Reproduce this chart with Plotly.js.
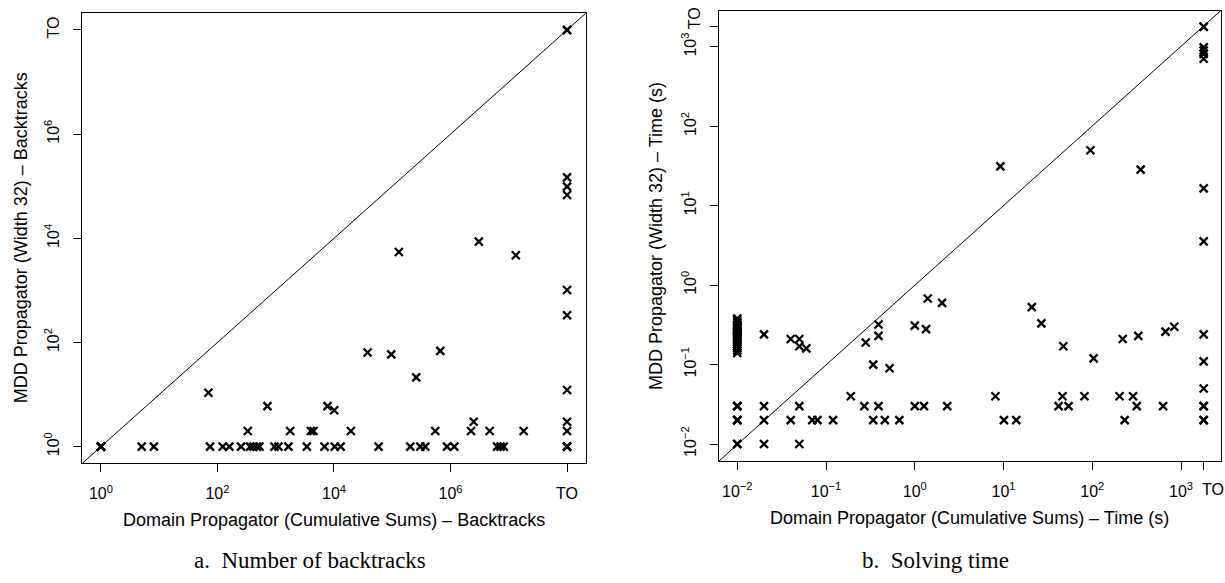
<!DOCTYPE html>
<html>
<head>
<meta charset="utf-8">
<script src="https://cdn.plot.ly/plotly-3.0.1.min.js"></script>
<style>html,body{margin:0;padding:0;background:#fff;}#chart{width:1225px;height:583px;}</style>
</head>
<body>
<div id="chart"></div>
<script>
// Timeout placeholders (TO) used on the axes
const TO_BT = 1e8;     // backtracks timeout position
const TO_TIME = 1800;  // time timeout position (s)

// Panel a: number of backtracks
const btDomain = [
  1,1,1,1,5,8.1,74.6,123,160,254,363,414,473,525,950,1114,1652,3420,6870,10300,13000,
  58200,204000,303000,369000,871000,1160000,6300000,7200000,8200000,TO_BT,TO_BT,TO_BT,
  331,1767,4010,4450,19500,548000,2250000,4700000,18000000,TO_BT,
  2500000,TO_BT,
  69.8,721,7740,10070,37700,96100,258000,668000,130000,3060000,13200000,
  TO_BT,TO_BT,TO_BT,TO_BT,TO_BT,TO_BT,TO_BT,TO_BT
];
const btMdd = [
  1,1,1,1,1,1,1,1,1,1,1,1,1,1,1,1,1,1,1,1,1,
  1,1,1,1,1,1,1,1,1,1,1,1,
  2,2,2,2,2,2,2,2,2,2,
  3,3,
  10.8,6,6,5,64,59,21.4,69,5470,8630,4720,
  TO_BT,TO_BT,148000,98000,67700,1020,333,12.2
];

// Panel b: solving time (s)
const timeDomain = [
  0.01,0.01,0.01,0.01,0.01,0.01,0.01,0.01,
  0.01,0.01,0.01,0.01,0.01,0.01,0.01,0.01,0.01,0.01,0.01,0.01,0.01,0.01,0.01,0.01,0.01,0.01,0.01,0.01,0.01,0.01,
  0.02,0.02,0.02,0.02,
  0.04,0.04,
  0.05,0.05,0.05,0.05,
  0.06,0.07,0.08,0.12,
  0.19,0.27,0.28,0.34,0.34,0.39,0.39,0.39,0.46,0.52,0.67,
  1.0,1.0,1.27,1.34,1.40,2.03,2.32,
  8.1,9.2,10.1,13.9,20.8,26.7,
  41.7,46.2,47.2,54,81.6,95.3,103.5,
  203,220,232,288,317,330,351,628,668,838,
  TO_TIME,TO_TIME,TO_TIME,TO_TIME,TO_TIME,TO_TIME,TO_TIME,TO_TIME,TO_TIME,TO_TIME,TO_TIME,TO_TIME,TO_TIME,TO_TIME,TO_TIME
];
const timeMdd = [
  0.01,0.01,0.02,0.02,0.02,0.03,0.03,0.03,
  0.14,0.15,0.16,0.17,0.18,0.19,0.2,0.21,0.22,0.23,0.24,0.25,0.26,0.27,0.28,0.29,0.3,0.31,0.32,0.34,0.36,0.38,
  0.24,0.03,0.02,0.01,
  0.21,0.02,
  0.21,0.17,0.03,0.01,
  0.16,0.02,0.02,0.02,
  0.04,0.03,0.19,0.1,0.02,0.32,0.23,0.03,0.02,0.09,0.02,
  0.31,0.03,0.03,0.28,0.68,0.60,0.03,
  0.04,31.4,0.02,0.02,0.53,0.33,
  0.03,0.04,0.17,0.03,0.04,50,0.12,
  0.04,0.21,0.02,0.04,0.03,0.23,28.5,0.03,0.26,0.30,
  TO_TIME,TO_TIME,990,900,820,710,16.6,3.56,0.24,0.11,0.05,0.03,0.03,0.02,0.02
];

// Tick labels (panel b's "TO" label is drawn beside its tick, as in the original)
const btTickVals = [1, 1e2, 1e4, 1e6, TO_BT];
const btTickText = ['10<sup>0</sup>','10<sup>2</sup>','10<sup>4</sup>','10<sup>6</sup>','TO'];
const timeTickVals = [0.01, 0.1, 1, 10, 100, 1000, TO_TIME];
const timeTickText = ['10<sup>\u22122</sup>','10<sup>\u22121</sup>','10<sup>0</sup>','10<sup>1</sup>','10<sup>2</sup>','10<sup>3</sup>',''];
const timeoutLabel = 'TO';

const sans = 'Liberation Sans, Arial, Helvetica, sans-serif';
const serif = 'Liberation Serif, DejaVu Serif, serif';
const marker = {symbol: 'x-thin', size: 8, color: '#000', line: {color: '#000', width: 2.3}};

const traces = [
  {type: 'scatter', mode: 'markers', x: btDomain, y: btMdd, xaxis: 'x', yaxis: 'y', marker: marker, hoverinfo: 'x+y'},
  {type: 'scatter', mode: 'markers', x: timeDomain, y: timeMdd, xaxis: 'x2', yaxis: 'y2', marker: marker, hoverinfo: 'x+y'}
];

function axis(extra) {
  return Object.assign({
    type: 'log', showgrid: false, zeroline: false,
    showline: true, mirror: true, linecolor: '#000', linewidth: 1,
    ticks: 'outside', ticklen: 8, tickwidth: 1, tickcolor: '#000',
    tickmode: 'array', automargin: false, tickangle: 0,
    tickfont: {family: sans, size: 16, color: '#000'}
  }, extra);
}

const tickFont = {family: sans, size: 16, color: '#000'};
const titleFont = {family: sans, size: 18, color: '#000'};
const capFont = {family: serif, size: 23, color: '#000'};

const layout = {
  width: 1225, height: 583,
  margin: {l: 0, r: 0, t: 0, b: 0},
  paper_bgcolor: '#fff', plot_bgcolor: '#fff',
  showlegend: false,
  xaxis: axis({domain: [0.06718, 0.47812], range: [-0.32, 8.32], anchor: 'y', tickvals: btTickVals, ticktext: btTickText, ticklabelstandoff: 8}),
  yaxis: axis({domain: [0.20532, 0.97719], range: [-0.32, 8.32], anchor: 'x', tickvals: btTickVals, ticktext: btTickText, tickangle: -90, ticklabelstandoff: 8}),
  xaxis2: axis({domain: [0.58694, 0.99649], range: [-2.206, 3.447], anchor: 'y2', tickvals: timeTickVals, ticktext: timeTickText, ticklabelstandoff: 8}),
  yaxis2: axis({domain: [0.20926, 0.98165], range: [-2.214, 3.457], anchor: 'x2', tickvals: timeTickVals, ticktext: timeTickText, tickangle: -90, ticklabelstandoff: 8}),
  shapes: [
    {type: 'line', xref: 'x domain', yref: 'y domain', x0: 0, y0: 0, x1: 1, y1: 1, line: {color: '#000', width: 1}},
    {type: 'line', xref: 'x2 domain', yref: 'y2 domain', x0: 0, y0: 0, x1: 1, y1: 1, line: {color: '#000', width: 1}}
  ],
  annotations: [
    {xref: 'x2', yref: 'paper', x: Math.log10(TO_TIME), y: (583-489.5)/583, xshift: 9, text: timeoutLabel, showarrow: false, xanchor: 'center', yanchor: 'middle', font: tickFont},
    {xref: 'paper', yref: 'y2', x: 694/1225, y: Math.log10(TO_TIME), yshift: 8.5, text: timeoutLabel, textangle: -90, showarrow: false, xanchor: 'center', yanchor: 'middle', font: tickFont},
    {xref: 'paper', yref: 'paper', x: 334/1225, y: (583-520)/583, text: 'Domain Propagator (Cumulative Sums) \u2013 Backtracks', showarrow: false, xanchor: 'center', yanchor: 'middle', font: titleFont},
    {xref: 'paper', yref: 'paper', x: 970/1225, y: (583-518)/583, text: 'Domain Propagator (Cumulative Sums) \u2013 Time (s)', showarrow: false, xanchor: 'center', yanchor: 'middle', font: titleFont},
    {xref: 'paper', yref: 'paper', x: 21/1225, y: (583-238.3)/583, text: 'MDD Propagator (Width 32) \u2013 Backtracks', textangle: -90, showarrow: false, xanchor: 'center', yanchor: 'middle', font: titleFont},
    {xref: 'paper', yref: 'paper', x: 656/1225, y: (583-236)/583, text: 'MDD Propagator (Width 32) \u2013 Time (s)', textangle: -90, showarrow: false, xanchor: 'center', yanchor: 'middle', font: titleFont},
    {xref: 'paper', yref: 'paper', x: 310/1225, y: (583-560)/583, text: 'a.\u2002Number of backtracks', showarrow: false, xanchor: 'center', yanchor: 'middle', font: capFont},
    {xref: 'paper', yref: 'paper', x: 935/1225, y: (583-560)/583, text: 'b.\u2002Solving time', showarrow: false, xanchor: 'center', yanchor: 'middle', font: capFont}
  ]
};

Plotly.newPlot('chart', traces, layout, {displayModeBar: false, staticPlot: true});
</script>
</body>
</html>
